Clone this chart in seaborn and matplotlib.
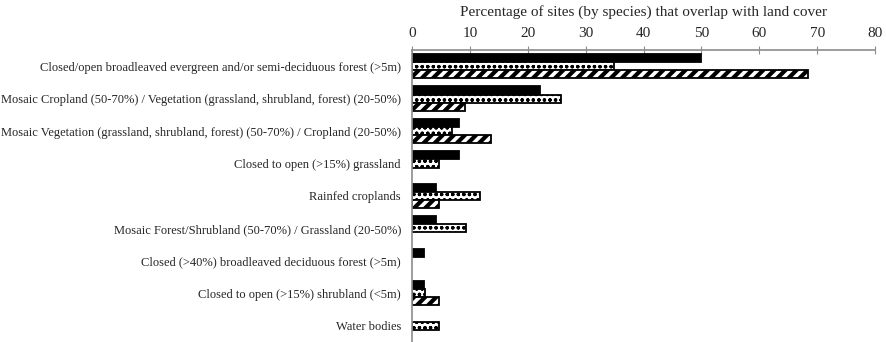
import pandas as pd
import matplotlib.pyplot as plt
import seaborn as sns

categories = [
    "Closed/open broadleaved evergreen and/or semi-deciduous forest (>5m)",
    "Mosaic Cropland (50-70%) / Vegetation (grassland, shrubland, forest) (20-50%)",
    "Mosaic Vegetation (grassland, shrubland, forest) (50-70%) / Cropland (20-50%)",
    "Closed to open (>15%) grassland",
    "Rainfed croplands",
    "Mosaic Forest/Shrubland (50-70%) / Grassland (20-50%)",
    "Closed (>40%) broadleaved deciduous forest (>5m)",
    "Closed to open (>15%) shrubland (<5m)",
    "Water bodies",
]
series_names = ["Group 1", "Group 2", "Group 3"]
group1 = [50.0, 22.2, 8.1, 8.1, 4.1, 4.1, 2.0, 2.0, 0.0]
group2 = [34.9, 25.7, 6.9, 4.7, 11.7, 9.3, 0.0, 2.3, 4.6]
group3 = [68.4, 9.1, 13.6, 0.0, 4.6, 0.0, 0.0, 4.6, 0.0]

rows = []
for name, vals in zip(series_names, [group1, group2, group3]):
    for cat, v in zip(categories, vals):
        rows.append({"cover": cat, "series": name, "pct": v})
df = pd.DataFrame(rows)

sns.set_style("white")
plt.rcParams["font.family"] = ["Liberation Serif", "DejaVu Serif"]
plt.rcParams["hatch.linewidth"] = 2.2

fig = plt.figure(figsize=(8.86, 3.42), dpi=100)
ax = fig.add_axes([412 / 886, 0.0, 463 / 886, 0.854])

sns.barplot(data=df, y="cover", x="pct", hue="series", hue_order=series_names,
            order=categories, orient="h", width=0.75, gap=0, legend=False,
            edgecolor="black", linewidth=1.3, ax=ax)

# black solid, white with small circles, diagonal stripes
styles = [("black", "", 1.0), ("white", "ooo", 0.9), ("white", "///", 3.0)]
for cont, (fc, hatch, hlw) in zip(ax.containers, styles):
    for bar in cont:
        bar.set_facecolor(fc)
        bar.set_edgecolor("black")
        bar.set_hatch(hatch)
        if hasattr(bar, "set_hatch_linewidth"):
            bar.set_hatch_linewidth(hlw)
        if bar.get_width() == 0:
            bar.set_visible(False)

ax.set_xlim(0, 80)
ax.set_xticks(range(0, 81, 10))
ax.set_ylim(len(categories) - 0.5, -0.5)
ax.xaxis.tick_top()
ax.xaxis.set_label_position("top")
ax.set_xlabel("Percentage of sites (by species) that overlap with land cover",
              fontsize=11, labelpad=8.5)
ax.set_ylabel("")

for s in ["right", "bottom"]:
    ax.spines[s].set_visible(False)
for s in ["top", "left"]:
    ax.spines[s].set_color("#8c8c8c")
    ax.spines[s].set_linewidth(1.2)

ax.tick_params(axis="x", which="major", direction="inout", length=6,
               color="#8c8c8c", labelsize=11, pad=4, top=True, bottom=False)
ax.tick_params(axis="y", which="major", length=0, labelsize=9.0, pad=8)
ax.set_yticks([i + 0.5 for i in range(len(categories))], minor=True)
ax.tick_params(axis="y", which="minor", direction="out", length=4,
               color="#8c8c8c", width=1)

fig.savefig("out.png", dpi=100)
